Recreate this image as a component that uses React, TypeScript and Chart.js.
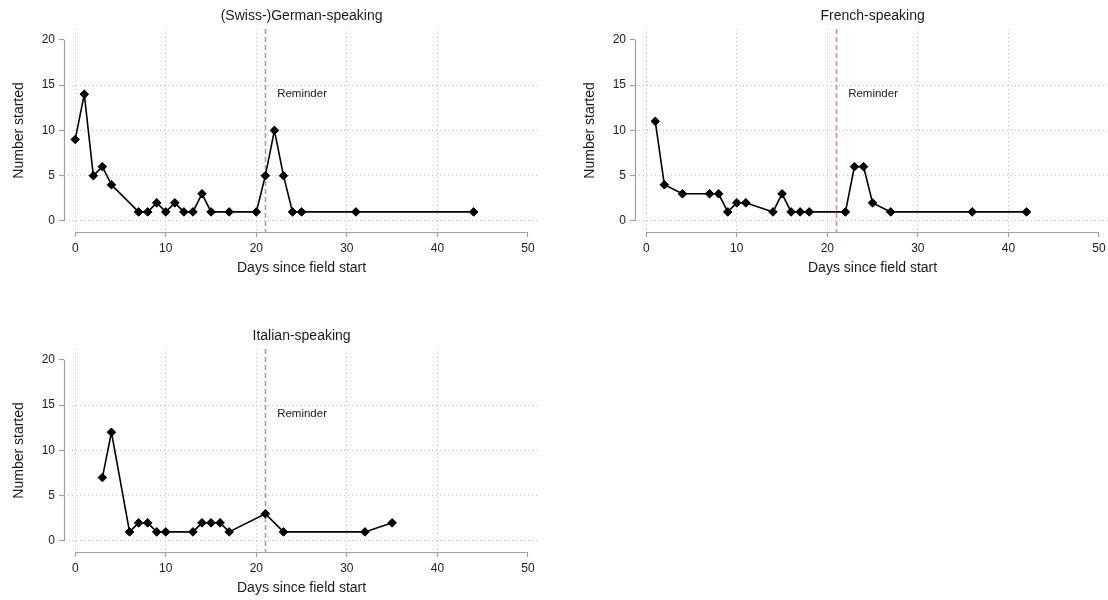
import React, { useEffect, useRef } from 'react';
import { Chart, registerables } from 'chart.js';

Chart.register(...registerables);

// ---- Data ----
const germanDays = [0, 1, 2, 3, 4, 7, 8, 9, 10, 11, 12, 13, 14, 15, 17, 20, 21, 22, 23, 24, 25, 31, 44];
const germanCounts = [9, 14, 5, 6, 4, 1, 1, 2, 1, 2, 1, 1, 3, 1, 1, 1, 5, 10, 5, 1, 1, 1, 1];

const frenchDays = [1, 2, 4, 7, 8, 9, 10, 11, 14, 15, 16, 17, 18, 22, 23, 24, 25, 27, 36, 42];
const frenchCounts = [11, 4, 3, 3, 3, 1, 2, 2, 1, 3, 1, 1, 1, 1, 6, 6, 2, 1, 1, 1];

const italianDays = [3, 4, 6, 7, 8, 9, 10, 13, 14, 15, 16, 17, 21, 23, 32, 35];
const italianCounts = [7, 12, 1, 2, 2, 1, 1, 1, 2, 2, 2, 1, 3, 1, 1, 2];

const xTicks = [0, 10, 20, 30, 40, 50];
const yTicks = [0, 5, 10, 15, 20];
const reminderDay = 21;
const reminderText = 'Reminder';
const reminderTextAt = [22.3, 14];

const xTitle = 'Days since field start';
const yTitle = 'Number started';

const FONT = '"Liberation Sans", Arial, Helvetica, sans-serif';
const TEXT = '#1a1a1a';
const AXIS = '#a0a0a0';
const GRID = '#c4c4c4';

type PanelProps = { title: string; days: number[]; counts: number[]; left: number; top: number };

const W = 537;
const H = 280;

function Panel({ title, days, counts, left, top }: PanelProps) {
  const ref = useRef<HTMLCanvasElement>(null);
  useEffect(() => {
    if (!ref.current) return;
    const points = days.map((d, i) => ({ x: d, y: counts[i] }));
    const xMax = xTicks[xTicks.length - 1];
    const yMax = yTicks[yTicks.length - 1];
    const overlay = {
      id: 'overlay',
      beforeDatasetsDraw(chart: any) {
        const { ctx, chartArea, scales } = chart;
        const px = Math.round(scales.x.getPixelForValue(reminderDay)) + 0.5;
        ctx.save();
        ctx.strokeStyle = '#d884b4';
        ctx.lineWidth = 1.6;
        ctx.setLineDash([5, 3]);
        ctx.beginPath();
        ctx.moveTo(px, chartArea.top);
        ctx.lineTo(px, chartArea.bottom);
        ctx.stroke();
        ctx.restore();
      },
      afterDraw(chart: any) {
        const { ctx, chartArea, scales } = chart;
        const xs = scales.x;
        const ys = scales.y;
        ctx.save();
        // axis lines
        ctx.strokeStyle = AXIS;
        ctx.lineWidth = 1.2;
        ctx.setLineDash([]);
        ctx.beginPath();
        const ax = Math.round(chartArea.left) + 0.5;
        ctx.moveTo(ax, ys.getPixelForValue(yMax));
        ctx.lineTo(ax, ys.getPixelForValue(0));
        const ay = Math.round(chartArea.bottom) + 0.5;
        ctx.moveTo(xs.getPixelForValue(0), ay);
        ctx.lineTo(xs.getPixelForValue(xMax), ay);
        ctx.stroke();
        // texts
        ctx.fillStyle = TEXT;
        const cx = (xs.getPixelForValue(0) + xs.getPixelForValue(xMax)) / 2;
        ctx.font = `14px ${FONT}`;
        ctx.textAlign = 'center';
        ctx.textBaseline = 'middle';
        ctx.fillText(title, cx, 16);
        ctx.fillText(xTitle, cx, 268);
        const cy = (ys.getPixelForValue(0) + ys.getPixelForValue(yMax)) / 2;
        ctx.save();
        ctx.translate(19, cy);
        ctx.rotate(-Math.PI / 2);
        ctx.fillText(yTitle, 0, 0);
        ctx.restore();
        ctx.font = `11.5px ${FONT}`;
        ctx.textAlign = 'left';
        ctx.fillText(reminderText, xs.getPixelForValue(reminderTextAt[0]), ys.getPixelForValue(reminderTextAt[1]));
        ctx.restore();
      },
    };
    const chart = new Chart(ref.current, {
      type: 'line',
      data: {
        datasets: [
          {
            data: points,
            borderColor: '#000',
            borderWidth: 1.6,
            pointStyle: 'rectRot',
            pointRadius: 4.3,
            pointBackgroundColor: '#000',
            pointBorderColor: '#000',
            pointBorderWidth: 1,
            tension: 0,
          },
        ],
      },
      options: {
        animation: false,
        responsive: false,
        maintainAspectRatio: false,
        layout: { autoPadding: false, padding: { top: 29, right: 0, left: 0, bottom: 0 } },
        plugins: { legend: { display: false }, tooltip: { enabled: false }, title: { display: false } },
        scales: {
          x: {
            type: 'linear',
            min: -1.24,
            max: 51,
            afterBuildTicks: (s: any) => {
              s.ticks = xTicks.map((v) => ({ value: v }));
            },
            afterFit: (s: any) => {
              s.height = 48;
              s.paddingLeft = 0;
              s.paddingRight = 0;
            },
            grid: {
              color: (c: any) => (c.tick && c.tick.value === xMax ? 'rgba(0,0,0,0)' : GRID),
              lineWidth: 1,
              tickColor: AXIS,
              tickLength: 5,
              tickWidth: 1.2,
              tickBorderDash: [],
            },
            border: { display: false, dash: [1, 3] },
            ticks: { padding: 4, color: TEXT, font: { family: FONT, size: 12 }, maxRotation: 0, autoSkip: false },
          },
          y: {
            type: 'linear',
            min: -1.22,
            max: 21.2,
            afterBuildTicks: (s: any) => {
              s.ticks = yTicks.map((v) => ({ value: v }));
            },
            afterFit: (s: any) => {
              s.width = 64;
              s.paddingTop = 0;
              s.paddingBottom = 0;
            },
            grid: {
              color: (c: any) => (c.tick && c.tick.value === yMax ? 'rgba(0,0,0,0)' : GRID),
              lineWidth: 1,
              tickColor: AXIS,
              tickLength: 5,
              tickWidth: 1.2,
              tickBorderDash: [],
            },
            border: { display: false, dash: [1, 3] },
            ticks: { padding: 4, color: TEXT, font: { family: FONT, size: 12 }, autoSkip: false },
          },
        },
      },
      plugins: [overlay],
    } as any);
    return () => chart.destroy();
  }, [title, days, counts]);
  return (
    <canvas
      ref={ref}
      width={W}
      height={H}
      style={{ position: 'absolute', left, top, width: W, height: H }}
    />
  );
}

export default function App() {
  return (
    <div style={{ position: 'absolute', left: 0, top: 0, width: 1108, height: 600, background: '#fff', overflow: 'hidden' }}>
      <Panel title="(Swiss-)German-speaking" days={germanDays} counts={germanCounts} left={0} top={0} />
      <Panel title="French-speaking" days={frenchDays} counts={frenchCounts} left={571} top={0} />
      <Panel title="Italian-speaking" days={italianDays} counts={italianCounts} left={0} top={320} />
    </div>
  );
}
